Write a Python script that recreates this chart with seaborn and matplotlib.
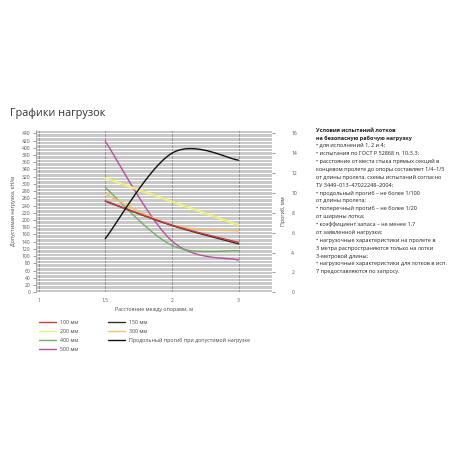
import numpy as np
import pandas as pd
import matplotlib.pyplot as plt
import seaborn as sns
from matplotlib.lines import Line2D

sns.set_theme(style="white")
plt.rcParams['font.family'] = ['Open Sans', 'DejaVu Sans']

# категории оси X (расстояние между опорами, м)
x_labels = ['1', '1,5', '2', '3']
span_pos = [1, 2, 3]          # позиции пролётов 1,5 / 2 / 3 на категориальной оси

# допустимая нагрузка, кН/м
load_100 = [253, 186, 138]
load_150 = [252, 185, 134]
load_200 = [316, 251, 186]
load_300 = [272, 186, 170]
load_400 = [290, 130, 115]
load_500 = [418, 142, 89]

# продольный прогиб при допустимой нагрузке, мм
deflection = [5.4, 14.0, 13.3]

series_names = ['100 мм', '150 мм', '200 мм', '300 мм', '400 мм', '500 мм']
series_values = [load_100, load_150, load_200, load_300, load_400, load_500]
series_colors = ['#c83c3c', '#3a2a22', '#eeee80', '#eec070', '#74b064', '#b8509c']
series_widths = [1.0, 1.0, 1.6, 1.2, 1.0, 1.0]
deflection_name = 'Продольный прогиб при допустимой нагрузке'

notes = [
    ('Условия испытаний лотков', True),
    ('на безопасную рабочую нагрузку', True),
    ('• для исполнений 1, 2 и 4;', False),
    ('• испытания по ГОСТ Р 52868 п. 10.3.3;', False),
    ('• расстояние от места стыка прямых секций в', False),
    ('концевом пролете до опоры составляет 1/4–1/5', False),
    ('от длины пролета, схемы испытаний согласно', False),
    ('ТУ 3449–013–47022248–2004;', False),
    ('• продольный прогиб – не более 1/100', False),
    ('от длины пролета;', False),
    ('• поперечный прогиб – не более 1/20', False),
    ('от ширины лотка;', False),
    ('• коэффициент запаса – не менее 1,7', False),
    ('от заявленной нагрузки;', False),
    ('• нагрузочные характеристики на пролете в', False),
    ('3 метра распространяются только на лотки', False),
    ('3-метровой длины;', False),
    ('• нагрузочные характеристики для лотков в исп.', False),
    ('7 предоставляются по запросу.', False),
]


def smooth(xs, ys, n=40):
    # сглаживание как в Excel: кубические кривые Безье через точки
    pts = np.column_stack([xs, ys]).astype(float)
    ext = np.vstack([pts[0], pts, pts[-1]])
    t = np.linspace(0, 1, n)[:, None]
    out = []
    for i in range(len(pts) - 1):
        p0, p1 = pts[i], pts[i + 1]
        c1 = p0 + (ext[i + 2] - ext[i]) / 6
        c2 = p1 - (ext[i + 3] - ext[i + 1]) / 6
        seg = (1 - t) ** 3 * p0 + 3 * (1 - t) ** 2 * t * c1 + 3 * (1 - t) * t ** 2 * c2 + t ** 3 * p1
        out.append(seg if i == 0 else seg[1:])
    return np.vstack(out)


frames = []
for name, vals in zip(series_names, series_values):
    c = smooth(span_pos, vals)
    frames.append(pd.DataFrame({'x': c[:, 0], 'y': c[:, 1], 'series': name}))
df = pd.concat(frames, ignore_index=True)

dc = smooth(span_pos, deflection)
df_def = pd.DataFrame({'x': dc[:, 0], 'y': dc[:, 1], 'series': deflection_name})

fig = plt.figure(figsize=(4.58, 4.58), dpi=100)
ax = fig.add_axes([0.0786, 0.3618, 0.515, 0.355])
ax.set_facecolor('#c9c9c9')

draw_order = ['500 мм', '400 мм', '300 мм', '200 мм', '150 мм', '100 мм']
for name in draw_order:
    i = series_names.index(name)
    sns.lineplot(data=df[df['series'] == name], x='x', y='y', ax=ax, sort=False,
                 estimator=None, color=series_colors[i], linewidth=series_widths[i], legend=False)

ax.set_xlim(-0.04, 3.5)
ax.set_ylim(0, 450)
ax.set_xticks(range(len(x_labels)))
ax.set_xticklabels(x_labels)
ax.set_yticks(np.arange(0, 441, 20))
ax.set_yticks(np.arange(0, 451, 10), minor=True)
ax.grid(True, axis='y', which='both', color='white', linewidth=0.7)
ax.grid(True, axis='x', which='major', color='#8a8a8a', linewidth=0.6)
ax.set_axisbelow(True)
for s in ax.spines.values():
    s.set_visible(False)
ax.spines['left'].set_visible(True)
ax.spines['left'].set_color('#9a9a9a')
ax.spines['left'].set_linewidth(0.5)
ax.tick_params(axis='both', labelsize=3.6, colors='#555555', length=2, width=0.4, pad=2)
ax.tick_params(axis='y', which='minor', length=0)
ax.set_xlabel('Расстояние между опорами, м', fontsize=3.8, color='#444444', labelpad=3)
ax.set_ylabel('Допустимая нагрузка, кН/м', fontsize=3.8, color='#444444', labelpad=4)

ax2 = ax.twinx()
sns.lineplot(data=df_def, x='x', y='y', ax=ax2, sort=False, estimator=None,
             color='#111111', linewidth=1.0, legend=False)
ax2.set_ylim(0, 450 * 16 / 440)
ax2.set_yticks(np.arange(0, 17, 2))
for s in ax2.spines.values():
    s.set_visible(False)
ax2.tick_params(axis='y', labelsize=3.6, colors='#555555', length=2, width=0.4, pad=12)
ax2.set_ylabel('Прогиб, мм', fontsize=3.8, color='#444444')
ax2.yaxis.set_label_coords(1.038, 0.5)
ax2.set_xlim(-0.04, 3.5)

# легенда: 100/200/400/500 в первом столбце, 150/300/прогиб во втором
leg_order = ['100 мм', '200 мм', '400 мм', '500 мм', '150 мм', '300 мм']
handles = []
labels = []
for name in leg_order:
    i = series_names.index(name)
    handles.append(Line2D([], [], color=series_colors[i], linewidth=1.0))
    labels.append(name)
handles.append(Line2D([], [], color='#111111', linewidth=1.0))
labels.append(deflection_name)
fig.legend(handles, labels, ncol=2, loc='upper left', bbox_to_anchor=(0.075, 0.312),
           frameon=False, fontsize=3.8, handlelength=3.2, handletextpad=0.8,
           columnspacing=5.6, labelspacing=0.75, labelcolor='#444444')

fig.text(0.022, 0.753, 'Графики нагрузок', fontsize=7.8, color='#333333', va='center')

y0 = 0.716
for k, (line, bold) in enumerate(notes):
    fig.text(0.69, y0 - k * 0.0172, line, fontsize=4.0, color='#222222',
             fontweight='bold' if bold else 'normal', va='center')

plt.savefig('out.png', dpi=100)
